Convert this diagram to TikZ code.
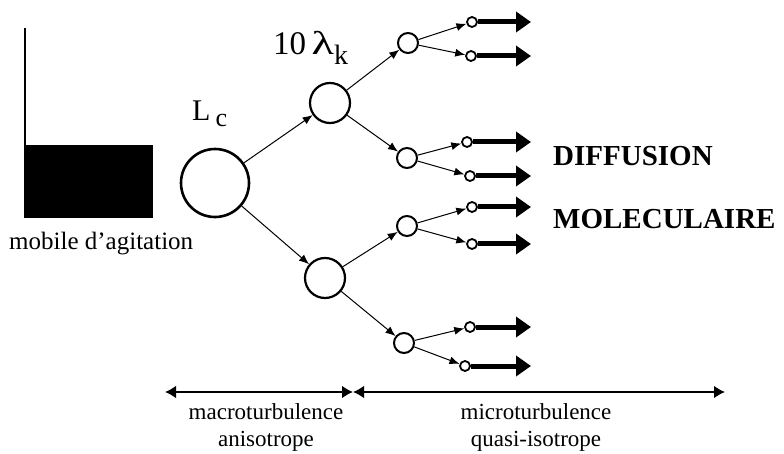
\documentclass[tikz,border=0pt]{standalone}
\usepackage{fontspec}
\setmainfont{Liberation Serif}
\usetikzlibrary{arrows.meta,positioning}

\begin{document}
\begin{tikzpicture}[
            x=1pt, y=-1pt,
            every node/.style={font=\fontsize{25}{28}\selectfont, inner sep=0pt},
            ring/.style={draw, circle, inner sep=0pt},
            big/.style={ring, line width=2.6pt, minimum size=68pt},
            mid/.style={ring, line width=2.2pt, minimum size=40pt},
            sml/.style={ring, line width=2pt, minimum size=20pt},
            tipc/.style={ring, line width=1.8pt, minimum size=10pt},
            br/.style={-{Latex[length=10pt,width=8pt]}, line width=1pt},
            jet/.style={-{Triangle[length=15pt,width=20pt]}, line width=5pt},
            axisln/.style={{Latex[length=11pt,width=13pt]}-{Latex[length=11pt,width=13pt]}, line width=2.4pt},
            lbl/.style={align=center, font=\fontsize{23}{27}\selectfont},
        ]
            \useasboundingbox (0,0) rectangle (784,454);
            % mixer
            \node[fill=black, minimum width=129pt, minimum height=73pt] (blade) at (88.5,181.5) {};
            \coordinate (shaft) at (25,28);
            \draw[line width=2.2pt] (blade.north west) ++(1,0) coordinate (hub) -- (hub |- shaft);
            \node[anchor=base west] (mixlbl) at (9,250) {mobile d'agitation};
            % cascade
            \node[big] (lc) at (215,183) {};
            \node[mid] (m1) at (330,103) {};
            \node[mid] (m2) at (325,278) {};
            \node[sml] (s1) at (408,43) {};
            \node[sml] (s2) at (407,158) {};
            \node[sml] (s3) at (407,226) {};
            \node[sml] (s4) at (404,343) {};
            \foreach \i/\x/\y in {1/472/22, 2/471/56, 3/467/142, 4/470/176,
                                  5/472/207, 6/472/244, 7/470/327, 8/465/366}
                \node[tipc] (t\i) at (\x,\y) {};
            \node[anchor=base west, font=\fontsize{30}{30}\selectfont] (lclbl) at (192,121) {L\,\raisebox{-6pt}{\fontsize{26}{26}\selectfont c}};
            \node[anchor=base west, font=\fontsize{33}{34}\selectfont] (lklbl) at (273,55) {10\,\scalebox{1.4}[1]{λ}\raisebox{-10pt}{\fontsize{28}{28}\selectfont k}};
            \draw[br] (lc) -- (m1);
            \draw[br] (lc) -- (m2);
            \draw[br] (m1) -- (s1);
            \draw[br] (m1) -- (s2);
            \draw[br] (m2) -- (s3);
            \draw[br] (m2) -- (s4);
            \foreach \s/\a/\b in {1/1/2, 2/3/4, 3/5/6, 4/7/8} {
                \draw[br] (s\s) -- (t\a);
                \draw[br] (s\s) -- (t\b);
            }
            \coordinate (jetend) at (531,0);
            \foreach \i in {1,...,8}
                \draw[jet] (t\i.east) -- (t\i.east -| jetend);
            \node[anchor=base west, font=\fontsize{29}{30}\bfseries] (dif) at (553,166) {DIFFUSION};
            \node[anchor=base west, font=\fontsize{29}{30}\bfseries] (mol) at (553,229) {MOLECULAIRE};
            % scales
            \coordinate (axl) at (165,392);
            \coordinate (axm) at (353,392);
            \coordinate (axr) at (725,392);
            \draw[axisln] (axl) -- (axm);
            \draw[axisln] (axm) -- (axr);
            \node[lbl, anchor=north] (macro) at (266,403) {macroturbulence\\anisotrope};
            \node[lbl, anchor=north] (micro) at (536,403) {microturbulence\\quasi-isotrope};
        \end{tikzpicture}
\end{document}
